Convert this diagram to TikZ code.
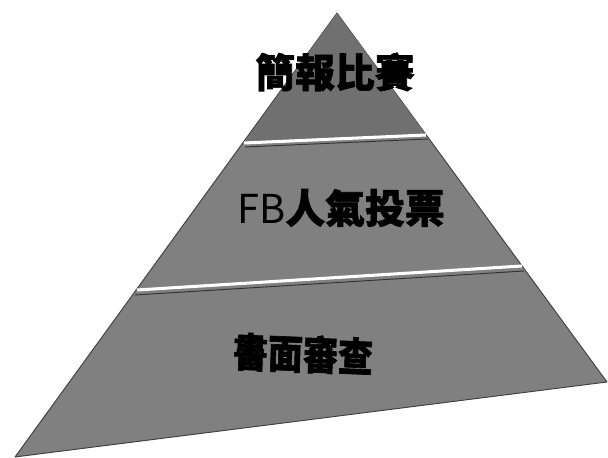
\documentclass[tikz,border=0pt]{standalone}
\usepackage{fontspec}
\newfontfamily\cjk{Noto Sans CJK TC}[BoldFeatures={FakeBold=1.6}]
\usepackage{tikz}
\usetikzlibrary{positioning,calc}

\begin{document}
\begin{tikzpicture}[x=0.03cm, y=-0.03cm]
			\tikzstyle{Tier}	= [fill=black!50, draw=black!75, line width=0.8pt, line join=round]
			\tikzstyle{Gap}		= [white, line width=2.6pt]
			\tikzstyle{Rim}		= [black!80, line width=0.8pt]
			\tikzstyle{Label}	= [inner sep=0pt, text=black, font=\cjk\bfseries\fontsize{34}{38}\selectfont]

			\useasboundingbox (0,0) rectangle (608,458);

			\coordinate (apex) at (337,13);
			\coordinate (bl) at (15,457);
			\coordinate (br) at (607,382);
			\coordinate (d1l) at (244,143);
			\coordinate (d1r) at (426,135);
			\coordinate (d2l) at (137,290);
			\coordinate (d2r) at (522,266);

			\draw [Tier] (apex) -- (bl) -- (br) -- cycle;
			\fill [black!56] (apex) -- (d1l) -- (d1r) -- cycle;

			\draw [Gap] (d1l) -- (d1r);
			\draw [Rim] ($(d1l)+(1,4)$) -- ($(d1r)+(2,4)$);
			\draw [Gap] (d2l) -- (d2r);
			\draw [Rim] ($(d2l)+(-2,5)$) -- ($(d2r)+(2,5)$);

			\node (top) at (335,72) [Label] {簡報比賽};
			\node (mid) at (341,208) [Label] {{\mdseries FB}人氣投票};
			\node (low) at (303,354) [Label, xscale=0.88, rotate=-2] {書面審查};
		\end{tikzpicture}
\end{document}
